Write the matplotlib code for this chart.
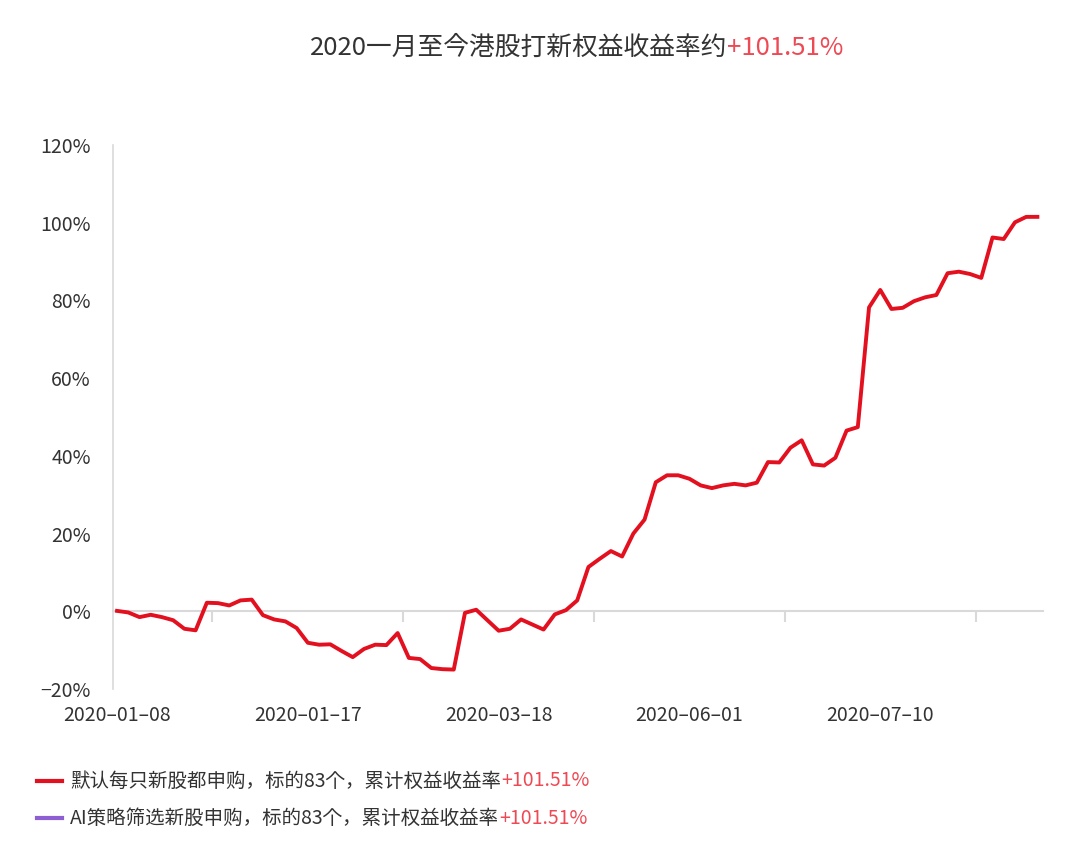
import matplotlib
matplotlib.use("Agg")
import matplotlib.pyplot as plt
import matplotlib.transforms as mt
from matplotlib import font_manager as fm

cjk = None
for f in fm.fontManager.ttflist:
    if "CJK SC" in f.name:
        cjk = f.name
        break
if cjk is None:
    for f in fm.fontManager.ttflist:
        if "CJK" in f.name:
            cjk = f.name
            break
if cjk is None:
    import glob
    files = glob.glob("/usr/share/fonts/**/*CJK*", recursive=True)
    for fp in files:
        try:
            fm.fontManager.addfont(fp)
        except Exception:
            pass
    for f in fm.fontManager.ttflist:
        if "CJK" in f.name:
            cjk = f.name
            break
plt.rcParams["font.family"] = [cjk or "DejaVu Sans", "DejaVu Sans"]

returns = [0.1, -0.3, -1.5, -0.9, -1.5, -2.3, -4.5, -4.9, 2.2, 2.1,
           1.5, 2.8, 3.0, -1.0, -2.1, -2.6, -4.3, -8.1, -8.6, -8.5,
           -10.2, -11.8, -9.7, -8.6, -8.7, -5.6, -12.0, -12.3, -14.6, -14.9,
           -15.0, -0.4, 0.4, -2.3, -5.0, -4.5, -2.1, -3.4, -4.7, -0.8,
           0.3, 2.8, 11.4, 13.5, 15.5, 14.1, 20.0, 23.6, 33.2, 35.0,
           35.0, 34.1, 32.4, 31.7, 32.4, 32.8, 32.4, 33.1, 38.4, 38.3,
           42.1, 44.0, 37.8, 37.5, 39.5, 46.5, 47.4, 78.2, 82.7, 77.8,
           78.1, 79.8, 80.8, 81.4, 87.0, 87.4, 86.8, 85.8, 96.2, 95.8,
           100.1, 101.5, 101.51]
x_labels = ["2020-01-08", "2020-01-17", "2020-03-18", "2020-06-01", "2020-07-10"]
x_label_pos = [0, 17, 34, 51, 68]
x_tick_pos = [8.5, 25.5, 42.5, 59.5, 76.5]
y_ticks = [-20, 0, 20, 40, 60, 80, 100, 120]

RED = "#e3101f"
PINK = "#ee4a55"
PURPLE = "#8d5fd3"
TXT = "#333333"
GRID = "#d9d9d9"

fig = plt.figure(figsize=(10.8, 8.59), dpi=100)
ax = fig.add_axes([113/1080, 1-689/859, (1043-113)/1080, (689-145)/859])
ax.plot(range(len(returns)), returns, color=RED, lw=2.8, solid_joinstyle="round", zorder=3)
ax.set_xlim(-0.36, 82.5)
ax.set_ylim(-20, 120)

for s in ["top", "right"]:
    ax.spines[s].set_visible(False)
ax.spines["left"].set_color(GRID)
ax.spines["left"].set_linewidth(1.2)
ax.spines["bottom"].set_position(("data", 0))
ax.spines["bottom"].set_color(GRID)
ax.spines["bottom"].set_linewidth(1.5)

ax.set_yticks(y_ticks)
ax.set_yticklabels([f"{v}%".replace("-", "−") for v in y_ticks], fontsize=14, color=TXT)
ax.tick_params(axis="y", length=0, pad=16)
ax.set_xticks(x_tick_pos)
ax.set_xticklabels([])
ax.tick_params(axis="x", length=8, color=GRID, width=1.5)

trans = mt.blended_transform_factory(ax.transData, ax.transAxes)
for p, lab in zip(x_label_pos, x_labels):
    ax.text(p, -0.03, lab.replace("-", "–"), transform=trans, ha="center", va="top",
            fontsize=14, color=TXT)

fig.canvas.draw()
r = fig.canvas.get_renderer()

# title
t1 = fig.text(0.0, 1-48/859, "2020一月至今港股打新权益收益率约", fontsize=18.5, color=TXT,
              ha="left", va="center")
t2 = fig.text(0, 1-48/859, "+101.51%", fontsize=18.5, color=PINK, ha="left", va="center")
w1 = t1.get_window_extent(r).width
w2 = t2.get_window_extent(r).width
start = 576.5 - (w1 + w2) / 2
t1.set_x(start/1080)
t2.set_x((start + w1)/1080)

# legend
for yy, col, txt in [(781, RED, "默认每只新股都申购，标的83个，累计权益收益率"),
                     (818, PURPLE, "AI策略筛选新股申购，标的83个，累计权益收益率")]:
    fy = 1 - yy/859
    fig.add_artist(plt.Line2D([37/1080, 62/1080], [fy, fy], color=col, lw=3))
    a = fig.text(70/1080, fy, txt, fontsize=14, color=TXT, ha="left", va="center")
    wa = a.get_window_extent(r).width
    fig.text((70 + wa)/1080, fy, "+101.51%", fontsize=14, color=PINK, ha="left", va="center")

fig.savefig("out.png", dpi=100, facecolor="white")
